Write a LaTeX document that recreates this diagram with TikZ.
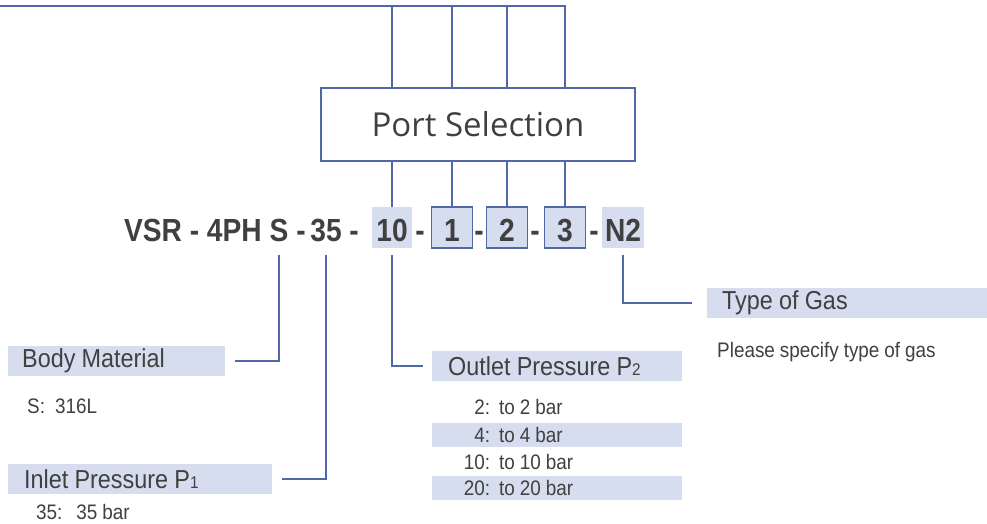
\documentclass[tikz,border=0pt]{standalone}
\usepackage{fontspec}
\setmainfont{Liberation Sans}
\newfontfamily\lblfont[FakeStretch=0.9, WordSpace=0.95]{Liberation Sans}
\newfontfamily\codefont[FakeStretch=0.88]{Liberation Sans Bold}
\newfontfamily\portfont{Open Sans}
\definecolor{lnblue}{HTML}{5068A8}
\definecolor{bandblue}{HTML}{D5DDEF}
\definecolor{txtgray}{HTML}{404040}
\newcommand{\optrow}[2]{\makebox[58pt][r]{#1}\hspace{9pt}#2}

\begin{document}
\begin{tikzpicture}[x=1pt, y=-1pt,
    conn/.style={draw=lnblue, line width=1.2pt},
    code/.style={font=\codefont\fontsize{32}{32}\selectfont, text=txtgray, inner sep=0pt, text height=27pt, text depth=0pt, minimum height=41pt},
    codebox/.style={code, fill=bandblue, minimum width=41pt},
    framed/.style={codebox, draw=lnblue, line width=1.2pt},
    band/.style={fill=bandblue, anchor=west, align=flush left, inner ysep=0pt, minimum height=30pt, text=txtgray, font=\lblfont\fontsize{26}{26}\selectfont},
    note/.style={anchor=west, inner sep=0pt, text=txtgray, font=\lblfont\fontsize{21}{21}\selectfont},
    optline/.style={note, text width=250pt, align=flush left, minimum height=24pt}]
    \useasboundingbox (0,0) rectangle (987,524);
    % model code
    \node[code, anchor=east] (series) at (262,227.5) {VSR - 4PH};
    \node[code] (mat) at (279,227.5) {S};
    \node[code] (d1) at (301,227.5) {-};
    \node[code] (inlet) at (326,227.5) {35};
    \node[code] (d2) at (354,227.5) {-};
    \node[codebox, minimum width=40pt] (outlet) at (392,227.5) {10};
    \node[code] (d3) at (420,227.5) {-};
    \node[framed] (p1) at (452,227.5) {1};
    \node[code] (d4) at (479,227.5) {-};
    \node[framed] (p2) at (507,227.5) {2};
    \node[code] (d5) at (535,227.5) {-};
    \node[framed] (p3) at (565,227.5) {3};
    \node[code] (d6) at (594,227.5) {-};
    \node[codebox, minimum width=42pt] (gas) at (623,227.5) {N2};
    % port selection
    \node[draw=lnblue, line width=1.2pt, minimum width=314pt, minimum height=73pt, text=txtgray, font=\portfont\fontsize{33}{33}\selectfont] (port) at (478,124.5) {Port Selection};
    \coordinate (topleft) at (0,6);
    \draw[conn] (topleft) -| (p3.north |- port.north);
    \foreach \n in {outlet,p1,p2}
        \draw[conn] (\n.north |- topleft) -- (\n.north |- port.north);
    \foreach \n in {outlet,p1,p2,p3}
        \draw[conn] (\n.north |- port.south) -- (\n.north);
    % labels
    \node[band, text width=189pt, inner xsep=14pt] (body) at (8,361) {Body Material};
    \node[note] (bodyopt) at (27,406) {S:\hspace{10pt}316L};
    \node[band, text width=232pt, inner xsep=16pt] (inletlbl) at (8,479) {Inlet Pressure P{\fontsize{17}{17}\selectfont 1}};
    \node[note] (inletopt) at (36,512) {35:\hspace{14pt}35 bar};
    \node[band, text width=218pt, inner xsep=16pt] (outletlbl) at (432,366) {Outlet Pressure P{\fontsize{17}{17}\selectfont 2}};
    \node[optline] (o2) at (432,407) {\optrow{2:}{to 2 bar}};
    \node[optline, fill=bandblue] (o4) at (432,434.5) {\optrow{4:}{to 4 bar}};
    \node[optline] (o10) at (432,462) {\optrow{10:}{to 10 bar}};
    \node[optline, fill=bandblue] (o20) at (432,488) {\optrow{20:}{to 20 bar}};
    \node[band, text width=250pt, inner xsep=15pt] (gaslbl) at (707,303) {Type of Gas};
    \node[note] (gasopt) at (717,352) {Please specify type of gas};
    % connectors
    \draw[conn, shorten <=7pt] (mat.south) |- ([xshift=10pt]body.east);
    \draw[conn, shorten <=7pt] (inlet.south) |- ([xshift=10pt]inletlbl.east);
    \draw[conn, shorten <=7pt] (outlet.south) |- ([xshift=-9pt]outletlbl.west);
    \draw[conn, shorten <=7pt] (gas.south) |- ([xshift=-15pt]gaslbl.west);
\end{tikzpicture}
\end{document}
